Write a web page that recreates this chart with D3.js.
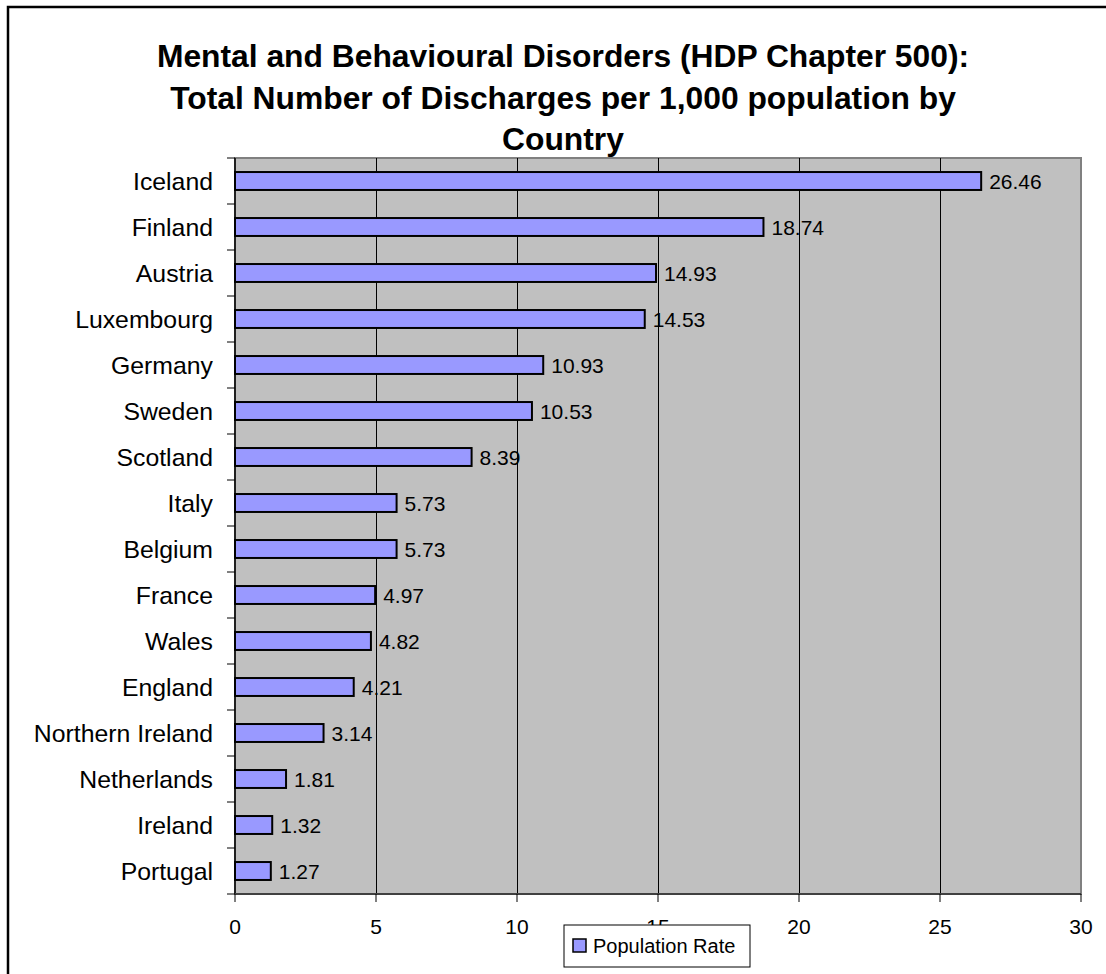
<!DOCTYPE html>
<html>
<head>
<meta charset="utf-8">
<script src="https://cdn.jsdelivr.net/npm/d3@7"></script>
<style>
  body { margin: 0; background: white; }
  svg text { font-family: "Liberation Sans", Arial, sans-serif; fill: black; }
</style>
</head>
<body>
<div id="chart"></div>
<script>
// data
const countries = ["Iceland", "Finland", "Austria", "Luxembourg", "Germany", "Sweden",
  "Scotland", "Italy", "Belgium", "France", "Wales", "England",
  "Northern Ireland", "Netherlands", "Ireland", "Portugal"]
const rates = [26.46, 18.74, 14.93, 14.53, 10.93, 10.53, 8.39, 5.73, 5.73, 4.97,
  4.82, 4.21, 3.14, 1.81, 1.32, 1.27]
const xTicks = [0, 5, 10, 15, 20, 25, 30]
const titleLines = ["Mental and Behavioural Disorders (HDP Chapter 500):",
  "Total Number of Discharges per 1,000 population by",
  "Country"]
const seriesName = "Population Rate"

const rows = countries.map((c, i) => ({country: c, rate: rates[i]}))

const width = 1106, height = 974
const plot = {left: 235, right: 1081, top: 158, bottom: 894}

const svg = d3.select("#chart").append("svg")
  .attr("width", width)
  .attr("height", height)

// outer chart frame (runs off right/bottom like the original)
svg.append("rect")
  .attr("x", 8).attr("y", 7)
  .attr("width", 1120).attr("height", 990)
  .attr("fill", "white")
  .attr("stroke", "black")
  .attr("stroke-width", 2.5)

// title
svg.append("text")
  .attr("text-anchor", "middle")
  .style("font-size", "31.8px")
  .style("font-weight", "bold")
  .selectAll("tspan")
  .data(titleLines)
  .join("tspan")
    .attr("x", 563)
    .attr("y", (d, i) => 67 + i * 41.5)
    .text(d => d)

const x = d3.scaleLinear().domain([0, 30]).range([plot.left, plot.right])
const y = d3.scaleBand().domain(countries).range([plot.top, plot.bottom]).padding(0)
const barH = y.bandwidth() * 0.39

// plot background
svg.append("rect")
  .attr("x", plot.left).attr("y", plot.top)
  .attr("width", plot.right - plot.left).attr("height", plot.bottom - plot.top)
  .attr("fill", "#c0c0c0")
  .attr("stroke", "#808080")
  .attr("stroke-width", 2)

// vertical gridlines
svg.selectAll(".grid")
  .data(xTicks.filter(t => t > 0 && t < 30))
  .join("line")
    .attr("class", "grid")
    .attr("x1", d => Math.round(x(d)) + 0.5).attr("x2", d => Math.round(x(d)) + 0.5)
    .attr("y1", plot.top).attr("y2", plot.bottom)
    .attr("stroke", "black")
    .attr("stroke-width", 1)
    .attr("shape-rendering", "crispEdges")

// bars
svg.selectAll(".bar")
  .data(rows)
  .join("rect")
    .attr("class", "bar")
    .attr("x", x(0))
    .attr("y", d => y(d.country) + y.bandwidth() / 2 - barH / 2)
    .attr("width", d => x(d.rate) - x(0))
    .attr("height", barH)
    .attr("fill", "#9999ff")
    .attr("stroke", "black")
    .attr("stroke-width", 2)

// value labels
svg.selectAll(".val")
  .data(rows)
  .join("text")
    .attr("class", "val")
    .attr("x", d => x(d.rate) + 8)
    .attr("y", d => y(d.country) + y.bandwidth() / 2)
    .attr("dy", "0.36em")
    .style("font-size", "21px")
    .text(d => d.rate.toFixed(2))

// y axis: line, boundary ticks, labels
svg.append("line")
  .attr("x1", plot.left).attr("x2", plot.left)
  .attr("y1", plot.top).attr("y2", plot.bottom)
  .attr("stroke", "black").attr("stroke-width", 1.5)

const boundaries = countries.map(c => y(c)).concat([plot.bottom])
svg.selectAll(".ytick")
  .data(boundaries)
  .join("line")
    .attr("class", "ytick")
    .attr("x1", plot.left - 8).attr("x2", plot.left)
    .attr("y1", d => d).attr("y2", d => d)
    .attr("stroke", "black").attr("stroke-width", 1)

svg.selectAll(".ylab")
  .data(countries)
  .join("text")
    .attr("class", "ylab")
    .attr("x", 213)
    .attr("y", d => y(d) + y.bandwidth() / 2)
    .attr("dy", "0.36em")
    .attr("text-anchor", "end")
    .style("font-size", "24.8px")
    .text(d => d)

// x axis
svg.append("line")
  .attr("x1", plot.left).attr("x2", plot.right)
  .attr("y1", plot.bottom).attr("y2", plot.bottom)
  .attr("stroke", "#404040").attr("stroke-width", 2)

svg.selectAll(".xtick")
  .data(xTicks)
  .join("line")
    .attr("class", "xtick")
    .attr("x1", d => x(d)).attr("x2", d => x(d))
    .attr("y1", plot.bottom).attr("y2", plot.bottom + 8)
    .attr("stroke", "black").attr("stroke-width", 1)

svg.selectAll(".xlab")
  .data(xTicks)
  .join("text")
    .attr("class", "xlab")
    .attr("x", d => x(d))
    .attr("y", 926)
    .attr("dy", "0.36em")
    .attr("text-anchor", "middle")
    .style("font-size", "21px")
    .text(d => d)

// legend (sits over the "15" label, like the original)
const legend = svg.append("g").attr("transform", "translate(564,925)")
legend.append("rect")
  .attr("width", 186).attr("height", 42)
  .attr("fill", "white").attr("stroke", "black").attr("stroke-width", 1)
legend.append("rect")
  .attr("x", 9).attr("y", 14)
  .attr("width", 13).attr("height", 13)
  .attr("fill", "#9999ff").attr("stroke", "black").attr("stroke-width", 1.5)
legend.append("text")
  .attr("x", 29).attr("y", 21)
  .attr("dy", "0.36em")
  .style("font-size", "20px")
  .text(seriesName)
</script>
</body>
</html>
